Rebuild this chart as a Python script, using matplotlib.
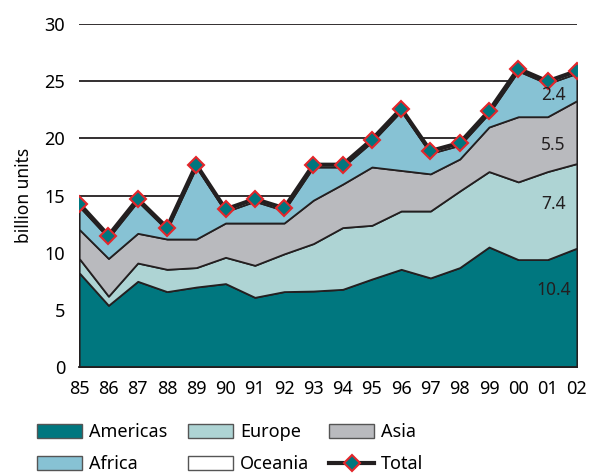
import matplotlib
matplotlib.use('Agg')
import matplotlib.pyplot as plt
from matplotlib.patches import Patch
from matplotlib.lines import Line2D

plt.rcParams['font.family'] = ['Noto Sans', 'DejaVu Sans']

# data (billion units)
years = list(range(1985, 2003))
year_labels = ['85', '86', '87', '88', '89', '90', '91', '92', '93', '94',
               '95', '96', '97', '98', '99', '00', '01', '02']
americas = [8.25, 5.4, 7.5, 6.6, 7.0, 7.3, 6.1, 6.6, 6.65, 6.8,
            7.7, 8.55, 7.8, 8.7, 10.5, 9.4, 9.4, 10.4]
europe = [1.25, 0.8, 1.6, 1.95, 1.7, 2.3, 2.8, 3.3, 4.15, 5.4,
          4.7, 5.1, 5.85, 6.7, 6.6, 6.8, 7.7, 7.4]
asia = [2.55, 3.3, 2.6, 2.65, 2.5, 3.0, 3.7, 2.7, 3.8, 3.8,
        5.1, 3.55, 3.25, 2.8, 3.9, 5.7, 4.8, 5.5]
africa = [2.0, 1.8, 2.8, 0.8, 6.3, 1.0, 1.9, 1.1, 2.9, 1.5,
          2.2, 5.2, 1.8, 1.2, 1.2, 4.0, 2.9, 2.4]
oceania = [0.2] * 18
total = [14.3, 11.5, 14.7, 12.2, 17.7, 13.8, 14.7, 13.9, 17.7, 17.7,
         19.9, 22.6, 18.9, 19.6, 22.4, 26.1, 25.0, 25.9]

names = ['Americas', 'Europe', 'Asia', 'Africa', 'Oceania']
colors = ['#00777f', '#aed4d4', '#b9babe', '#87c2d4', '#ffffff']
ink = '#231f20'

fig = plt.figure(figsize=(5.91, 4.73), dpi=100)
ax = fig.add_axes([0.134, 0.224, 0.842, 0.725])

ax.stackplot(years, americas, europe, asia, africa, oceania,
             colors=colors, edgecolor=ink, linewidth=1.3, zorder=2)
ax.plot(years, total, color=ink, lw=3, marker='D', ms=8,
        mfc='#00767e', mec='#e3262b', mew=1.5, zorder=4)

# layer values for 2002 written on the chart
lab_y = [6.7, 14.3, 19.4, 23.8]
for vals, yy in zip([americas, europe, asia, africa], lab_y):
    ax.text(2001.2, yy, f'{vals[-1]:.1f}', ha='center', va='center',
            fontsize=12.5, color=ink, zorder=5)

ax.set_xlim(1985, 2002)
ax.set_ylim(0, 30)
ax.set_yticks([0, 5, 10, 15, 20, 25, 30])
ax.yaxis.grid(True, color=ink, lw=1.3)
ax.set_axisbelow(True)
ax.tick_params(axis='y', length=0, labelsize=13, pad=10)
ax.set_xticks(years, year_labels)
ax.set_xticks([1985, 1990, 1995, 2000], minor=True)
ax.tick_params(axis='x', which='major', length=0, labelsize=13, pad=9)
ax.tick_params(axis='x', which='minor', length=6, width=1.3, color=ink)
for s in ['left', 'right', 'top']:
    ax.spines[s].set_visible(False)
ax.spines['bottom'].set_color(ink)
ax.spines['bottom'].set_linewidth(1.3)
ax.set_ylabel('billion units', fontsize=12.5, labelpad=8)

handles = [Patch(facecolor=c, edgecolor='#555555', lw=1) for c in colors]
handles.append(Line2D([], [], color=ink, lw=3, marker='D', ms=8,
                      mfc='#00767e', mec='#e3262b', mew=1.5))
labels = names + ['Total']
order = [0, 3, 1, 4, 2, 5]
fig.legend([handles[i] for i in order], [labels[i] for i in order],
           ncol=3, loc='lower left', bbox_to_anchor=(0.035, -0.035),
           frameon=False, fontsize=13, handlelength=2.5, handleheight=0.8,
           handletextpad=0.4, columnspacing=1.1, labelspacing=0.78)

fig.savefig('out.png', dpi=100)
